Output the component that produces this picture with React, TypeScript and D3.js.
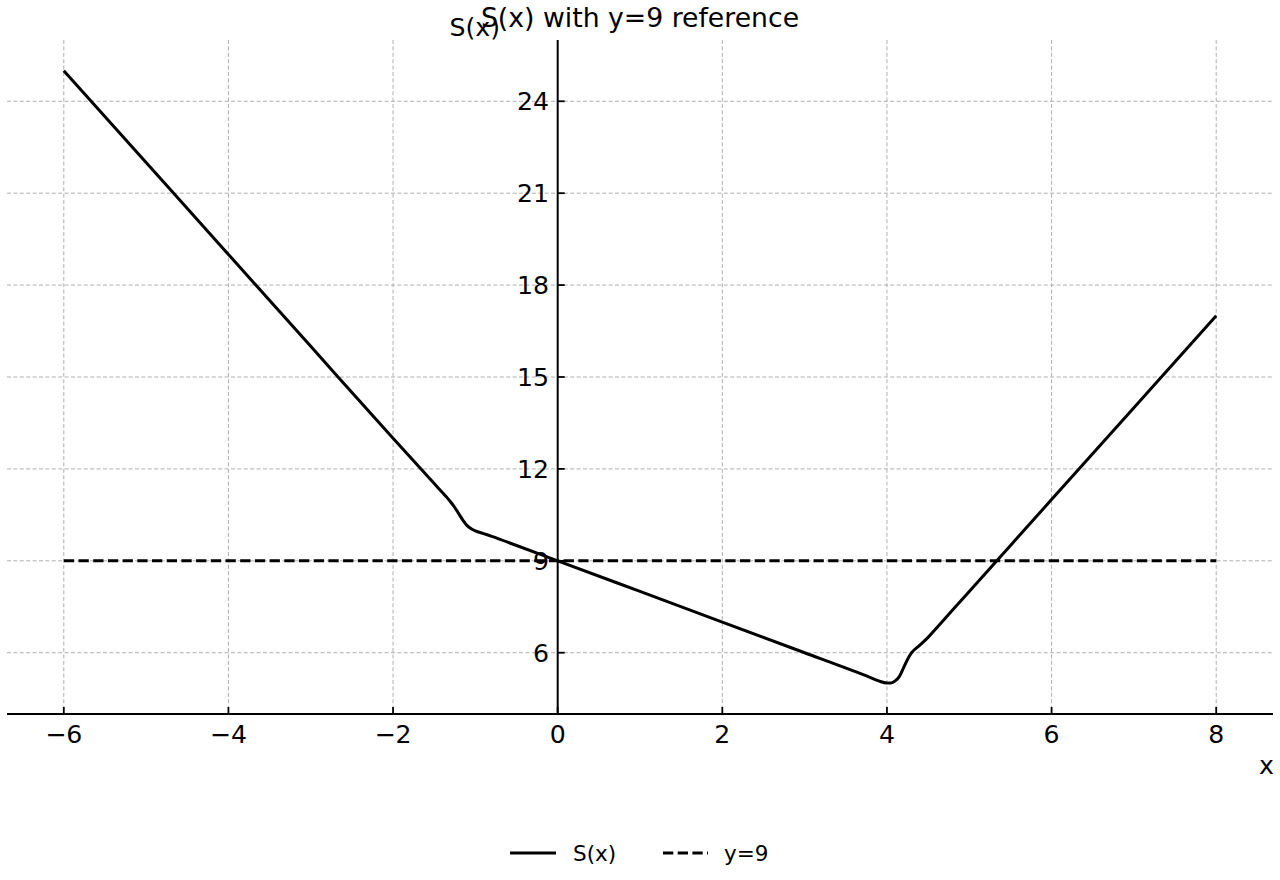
import { useEffect, useRef } from "react";
import * as d3 from "d3";

// S(x)
const S_X = [
  -6, -5, -4, -3, -2, -1.5, -1.35, -1.3, -1.25, -1.2, -1.15, -1.1, -1.05, -1.0,
  -0.9, -0.8, -0.5, 0, 1, 2, 3, 3.6, 3.8, 3.9, 4.0, 4.05, 4.1, 4.15, 4.2, 4.25, 4.3, 4.4,
  4.5, 4.6, 4.8, 5, 6, 7, 8,
];
const S_Y = [
  25, 22, 19, 16, 13, 11.52, 11.08, 10.92, 10.74, 10.53, 10.32, 10.15, 10.05, 9.98,
  9.89, 9.8, 9.5, 9, 8, 7, 6, 5.4, 5.19, 5.08, 5.01, 5.01, 5.08, 5.22, 5.5, 5.78, 6.0, 6.25,
  6.5, 6.8, 7.4, 8, 11, 14, 17,
];

// reference line y=9
const REF_X = [-6, 8];
const REF_Y = 9;

const X_TICKS = [-6, -4, -2, 0, 2, 4, 6, 8];
const Y_TICKS = [6, 9, 12, 15, 18, 21, 24];

const FONT = "DejaVu Sans";
const FS = "25.2px";

export default function App() {
  const ref = useRef<SVGSVGElement | null>(null);

  useEffect(() => {
    if (!ref.current) return;
    const svg = d3.select(ref.current);
    svg.selectAll("*").remove();

    const left = 7, right = 1273, top = 40, bottom = 714;
    const x = d3.scaleLinear().domain([-6.69, 8.69]).range([left, right]);
    const y = d3.scaleLinear().domain([4, 26]).range([bottom, top]);

    svg.append("rect").attr("width", 1280).attr("height", 880).attr("fill", "#fff");

    // grid
    const grid = svg.append("g").attr("stroke", "#b0b0b0").attr("stroke-width", 1)
      .attr("stroke-dasharray", "4,2.4");
    grid.selectAll(".gx").data(X_TICKS).enter().append("line")
      .attr("x1", (d) => x(d)).attr("x2", (d) => x(d)).attr("y1", top).attr("y2", bottom);
    grid.selectAll(".gy").data(Y_TICKS).enter().append("line")
      .attr("x1", left).attr("x2", right).attr("y1", (d) => y(d)).attr("y2", (d) => y(d));

    // reference line
    svg.append("line")
      .attr("x1", x(REF_X[0])).attr("x2", x(REF_X[1]))
      .attr("y1", y(REF_Y)).attr("y2", y(REF_Y))
      .attr("stroke", "#000").attr("stroke-width", 3)
      .attr("stroke-dasharray", "10.3,4.4");

    // curve
    const line = d3.line<number>()
      .x((d) => x(d))
      .y((_, i) => y(S_Y[i]))
      .curve(d3.curveMonotoneX);
    svg.append("path")
      .attr("d", line(S_X) as string)
      .attr("fill", "none")
      .attr("stroke", "#000")
      .attr("stroke-width", 3)
      .attr("stroke-linejoin", "round");

    // spines
    svg.append("line").attr("x1", left).attr("x2", right).attr("y1", bottom).attr("y2", bottom)
      .attr("stroke", "#000").attr("stroke-width", 2);
    svg.append("line").attr("x1", x(0)).attr("x2", x(0)).attr("y1", top).attr("y2", bottom)
      .attr("stroke", "#000").attr("stroke-width", 2);

    const fmt = (v: number) => (v < 0 ? "\u2212" + Math.abs(v) : String(v));

    // x ticks (pointing in)
    const xt = svg.append("g");
    xt.selectAll("line").data(X_TICKS).enter().append("line")
      .attr("x1", (d) => x(d)).attr("x2", (d) => x(d))
      .attr("y1", bottom).attr("y2", bottom - 7)
      .attr("stroke", "#000").attr("stroke-width", 1.8);
    xt.selectAll("text").data(X_TICKS).enter().append("text")
      .attr("x", (d) => x(d)).attr("y", 743)
      .attr("text-anchor", "middle")
      .attr("font-family", FONT).attr("font-size", FS)
      .text((d) => fmt(d));

    // y ticks (pointing in)
    const yt = svg.append("g");
    yt.selectAll("line").data(Y_TICKS).enter().append("line")
      .attr("x1", x(0)).attr("x2", x(0) + 7)
      .attr("y1", (d) => y(d)).attr("y2", (d) => y(d))
      .attr("stroke", "#000").attr("stroke-width", 1.8);
    yt.selectAll("text").data(Y_TICKS).enter().append("text")
      .attr("x", 549).attr("y", (d) => y(d) + 9)
      .attr("text-anchor", "end")
      .attr("font-family", FONT).attr("font-size", FS)
      .text((d) => fmt(d));

    // axis labels + title
    svg.append("text").attr("x", 1274).attr("y", 774).attr("text-anchor", "end")
      .attr("font-family", FONT).attr("font-size", FS).text("x");
    svg.append("text").attr("x", 500).attr("y", 36).attr("text-anchor", "end")
      .attr("font-family", FONT).attr("font-size", FS).text("S(x)");
    svg.append("text").attr("x", 640).attr("y", 27).attr("text-anchor", "middle")
      .attr("font-family", FONT).attr("font-size", "26.7px").text("S(x) with y=9 reference");

    // legend
    const lg = svg.append("g").attr("font-family", FONT).attr("font-size", "21.5px");
    lg.append("line").attr("x1", 510).attr("x2", 556).attr("y1", 853).attr("y2", 853)
      .attr("stroke", "#000").attr("stroke-width", 3);
    lg.append("text").attr("x", 573).attr("y", 861).text("S(x)");
    lg.append("line").attr("x1", 663).attr("x2", 708).attr("y1", 853).attr("y2", 853)
      .attr("stroke", "#000").attr("stroke-width", 3).attr("stroke-dasharray", "10.3,4.4");
    lg.append("text").attr("x", 724).attr("y", 861).text("y=9");
  }, []);

  return (
    <svg
      ref={ref}
      width={1280}
      height={880}
      style={{ position: "absolute", left: 0, top: 0 }}
    />
  );
}
